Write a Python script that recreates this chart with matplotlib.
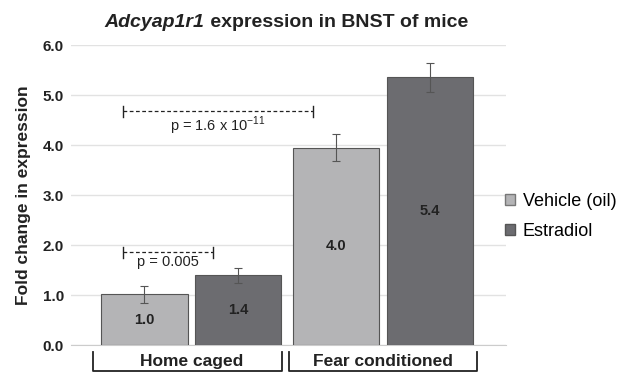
import numpy as np
import matplotlib
matplotlib.use("Agg")
import matplotlib.pyplot as plt
from matplotlib.patches import Patch
from matplotlib.offsetbox import TextArea, HPacker, AnchoredOffsetbox

# data
groups = ['Home caged', 'Fear conditioned']
series = ['Vehicle (oil)', 'Estradiol']
vehicle = [1.02, 3.95]
estradiol = [1.40, 5.36]
vehicle_err = [0.17, 0.27]
estradiol_err = [0.15, 0.29]
bar_labels = [['1.0', '4.0'], ['1.4', '5.4']]
yticks = [0.0, 1.0, 2.0, 3.0, 4.0, 5.0, 6.0]

colors = ['#b4b4b6', '#6c6c70']

plt.rcParams['font.family'] = ['Liberation Sans', 'DejaVu Sans']
plt.rcParams['mathtext.fontset'] = 'custom'
plt.rcParams['mathtext.rm'] = 'Liberation Sans'
plt.rcParams['axes.unicode_minus'] = False

fig = plt.figure(figsize=(6.21, 3.79), dpi=100)
ax = fig.add_axes([0.114, 0.0897, 0.701, 0.7913])

x = np.arange(len(groups))
off = 0.245
w = 0.45
for i, (vals, errs) in enumerate([(vehicle, vehicle_err), (estradiol, estradiol_err)]):
    pos = x + (-off if i == 0 else off)
    ax.bar(pos, vals, width=w, color=colors[i], edgecolor='#555555', linewidth=0.8, zorder=3)
    ax.errorbar(pos, vals, yerr=errs, fmt='none', ecolor='#555555', elinewidth=0.8,
                capsize=3, capthick=0.8, zorder=4)
    for p, v, lab in zip(pos, vals, bar_labels[i]):
        ax.text(p, v / 2, lab, ha='center', va='center', fontsize=10.5,
                fontweight='bold', color='#222222', zorder=5)

ax.set_xlim(-0.629, 1.642)
ax.set_ylim(0, 6)
ax.set_yticks(yticks)
ax.set_yticklabels([f'{t:.1f}' for t in yticks], fontsize=11, fontweight='bold', color='#222222')
ax.set_xticks([])
ax.tick_params(axis='y', length=0, pad=5)
ax.grid(axis='y', color='#e2e2e2', linewidth=1, zorder=0)
for s in ['top', 'right', 'left']:
    ax.spines[s].set_visible(False)
ax.spines['bottom'].set_color('#cccccc')
ax.set_ylabel('Fold change in expression', fontsize=12.5, fontweight='bold', color='#222222', labelpad=8)

# title: gene name in italics, rest upright
t1 = TextArea('Adcyap1r1', textprops=dict(fontsize=14, fontweight='bold', fontstyle='italic', color='#222222'))
t2 = TextArea(' expression in BNST of mice', textprops=dict(fontsize=14, fontweight='bold', color='#222222'))
title_box = HPacker(children=[t1, t2], align='baseline', pad=0, sep=0)
fig.add_artist(AnchoredOffsetbox(loc='center', child=title_box, frameon=False, pad=0,
                                 bbox_to_anchor=(0.461, 0.94), bbox_transform=fig.transFigure))

# significance brackets
def bracket(x0, x1, y, text, ty):
    ax.plot([x0, x1], [y, y], color='#222222', linestyle=(0, (3, 2)), linewidth=0.9, zorder=6)
    for xx in (x0, x1):
        ax.plot([xx, xx], [y - 0.11, y + 0.11], color='#222222', linewidth=1.0, zorder=6)
    ax.text((x0 + x1) / 2, ty, text, ha='center', va='center', fontsize=10.5, color='#222222', zorder=6)

bracket(-0.358, 0.634, 4.68, r'p = 1.6 x 10$^{\mathrm{-11}}$', 4.38)
bracket(-0.358, 0.112, 1.86, 'p = 0.005', 1.66)

# group labels below the axis
for gx0, gx1, gc, name in [(-0.515, 0.473, x[0], groups[0]), (0.509, 1.49, x[1], groups[1])]:
    ax.plot([gx0, gx0, gx1, gx1], [-0.14, -0.52, -0.52, -0.14], color='#222222',
            linewidth=1.3, clip_on=False)
    ax.text(gc, -0.34, name, ha='center', va='center', fontsize=12.5,
            fontweight='bold', color='#222222', clip_on=False)

handles = [Patch(facecolor=colors[0], edgecolor='#777777'), Patch(facecolor=colors[1], edgecolor='#555555')]
fig.legend(handles, series, loc='center left', bbox_to_anchor=(0.814, 0.429), frameon=False,
           fontsize=13, handlelength=0.5, handleheight=0.5, handletextpad=0.45, labelspacing=0.72,
           borderpad=0, borderaxespad=0)

fig.savefig('out.png', dpi=100, facecolor='white')
